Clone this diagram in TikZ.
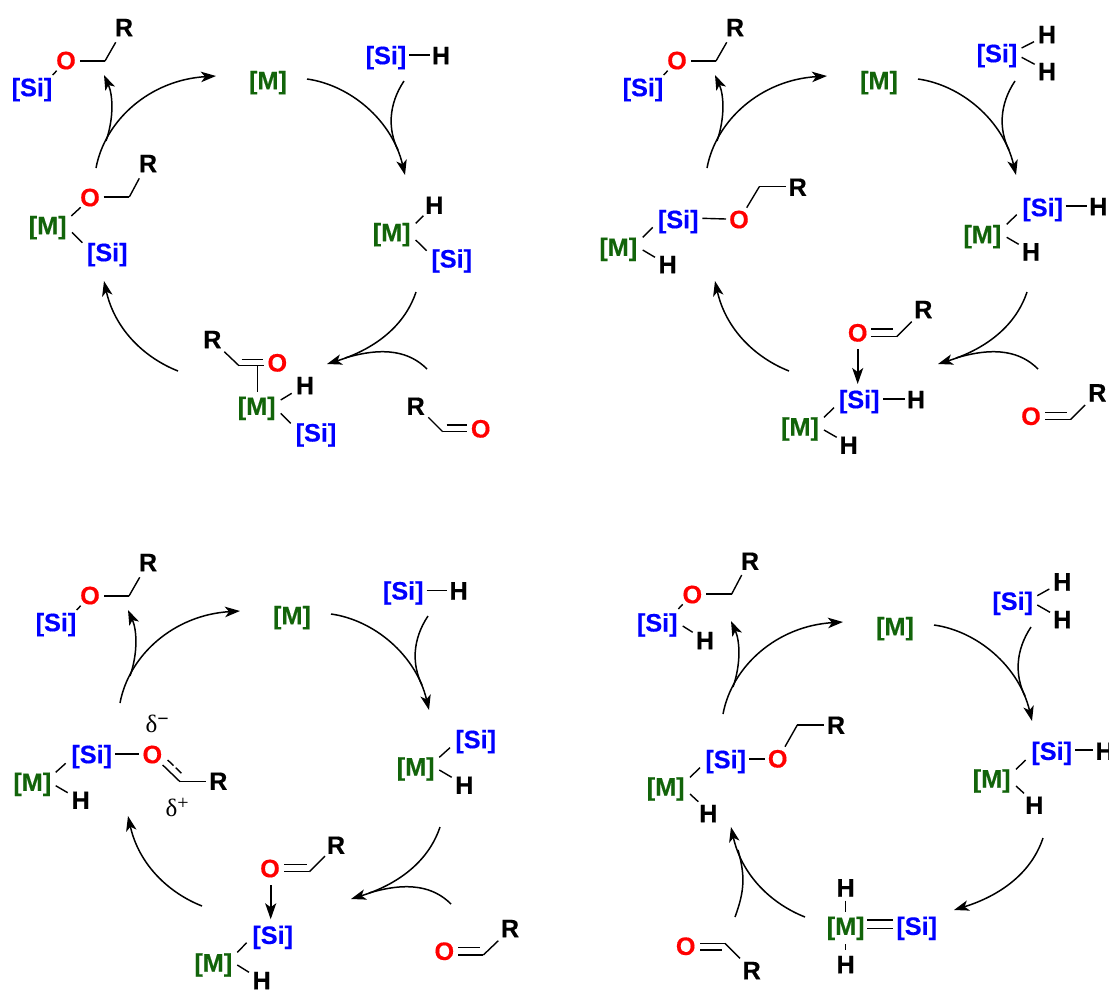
\documentclass[tikz,border=0pt]{standalone}
\usepackage{fontspec}
\setmainfont{Liberation Sans}[BoldFeatures={FakeBold=0.4}]
\newfontfamily\deltafont{Liberation Serif}
\usetikzlibrary{arrows.meta}
\definecolor{sicol}{RGB}{0,0,255}
\definecolor{mcol}{RGB}{18,100,10}
\definecolor{ocol}{RGB}{255,0,0}
\tikzset{
  atom/.style={font=\fontsize{25.2}{25.2}\selectfont\bfseries,inner sep=0pt,text height=18pt,text depth=1.6pt,anchor=center,text=black},
  atomSi/.style={atom,text=sicol},
  atomM/.style={atom,text=mcol},
  atomO/.style={atom,text=ocol},
  bond/.style={line width=1.4pt,black},
  dative/.style={line width=1.7pt,-{Stealth[length=16pt,width=11pt,inset=4pt]}},
  arcline/.style={line width=1.5pt,black},
  arcarrow/.style={arcline,-{Stealth[length=15pt,width=10.5pt,inset=4pt]}},
  deltatext/.style={font=\deltafont\fontsize{25}{25}\selectfont,inner sep=0pt,anchor=base west}
}
\newcommand\bnd[5][]{\draw[bond,#1] ([shift={(#3)}]#2.center) -- ([shift={(#5)}]#4.center);}
\newcommand\cycleparts[1]{%
  \node[atomM] (#1M0) at (268,81) {[M]};
  \coordinate (#1tls) at (96,168); \coordinate (#1tle) at (216,76);
  \coordinate (#1tbs) at (106,141); \coordinate (#1tbe) at (104,75);
  \coordinate (#1trs) at (307,79); \coordinate (#1tre) at (405,175);
  \coordinate (#1rbs) at (404,81); \coordinate (#1rbe) at (398,150);
  \coordinate (#1brs) at (416,292); \coordinate (#1bre) at (327,364);
  \coordinate (#1bls) at (178,371); \coordinate (#1ble) at (104,281);
  \draw[arcarrow] (#1tls) .. controls (105,120) and (150,80) .. (#1tle);
  \draw[arcarrow] (#1tbs) .. controls (114,118) and (113,95) .. (#1tbe);
  \draw[arcarrow] (#1trs) .. controls (350,85) and (392,120) .. (#1tre);
  \draw[arcline] (#1rbs) .. controls (388,105) and (388,130) .. (#1rbe);
  \draw[arcarrow] (#1brs) .. controls (404,328) and (372,350) .. (#1bre);
  \draw[arcarrow] (#1bls) .. controls (145,358) and (115,330) .. (#1ble);
}
\newcommand\aldbranch[1]{%
  \coordinate (#1abs) at (427,369); \coordinate (#1abe) at (345,358);
  \draw[arcline] (#1abs) .. controls (410,352) and (385,346) .. (#1abe);
}
\newcommand\productA[1]{%
  \node[atom] (#1Rp) at (124,28) {R};
  \node[atomO] (#1Op) at (66,61) {O};
  \node[atomSi] (#1Sp) at (32,88) {[Si]};
  \coordinate (#1Cp) at (105,61);
  \bnd{#1Op}{14,0}{#1Cp}{0,0}
  \bnd{#1Cp}{0,0}{#1Rp}{-8.3,14.3}
  \bnd{#1Op}{-9.3,9.7}{#1Sp}{20.7,-13}
}
\begin{document}
\begin{tikzpicture}[x=1pt,y=-1pt]
\useasboundingbox (0,0) rectangle (1109,989);
% ---------- panel 1
\cycleparts{a}\aldbranch{a}\productA{a}
\node[atomSi] (aS1) at (386,56) {[Si]};
\node[atom] (aH1) at (441,56) {H};
\bnd{aS1}{23.4,-1}{aH1}{-11.4,-1}
\node[atomO] (aO1) at (90,198) {O};
\node[atom] (aR1) at (148,164) {R};
\coordinate (aC1) at (129.3,197);
\node[atomM] (aM1) at (47.7,226) {[M]};
\node[atomSi] (aS2) at (107.3,253) {[Si]};
\bnd{aO1}{13.7,-1}{aC1}{0,0}
\bnd{aC1}{0,0}{aR1}{-8.7,14.3}
\bnd{aM1}{23.6,-10}{aO1}{-9.3,9.3}
\bnd{aM1}{24.3,6.3}{aS2}{-25,-10.3}
\node[atomM] (aM2) at (391.7,233) {[M]};
\node[atom] (aH2) at (434.3,205.7) {H};
\node[atomSi] (aS3) at (451.7,259.3) {[Si]};
\bnd{aM2}{24,-9.7}{aH2}{-11,10}
\bnd{aM2}{24,7}{aS3}{-25,-8.6}
\node[atom] (aR2) at (212.3,340) {R};
\node[atomO] (aO2) at (277.3,363.3) {O};
\coordinate (aC2) at (239,365.7);
\node[atomM] (aM3) at (256.7,406.7) {[M]};
\node[atom] (aH3) at (305,386) {H};
\node[atomSi] (aS4) at (316,433.3) {[Si]};
\bnd{aR2}{12,11.7}{aC2}{0,0}
\bnd{aC2}{0,0}{aO2}{-13,2.4}
\bnd{aC2}{2.7,-6.4}{aO2}{-14,-4}
\bnd{aC2}{18.3,0}{aM3}{0.6,-14.4}
\bnd{aM3}{24,-6.7}{aH3}{-13.3,7.3}
\bnd{aM3}{24,6.6}{aS4}{-25.3,-10}
\node[atom] (aR3) at (415.7,406.7) {R};
\node[atomO] (aO3) at (480.7,429.3) {O};
\coordinate (aC3) at (442.7,431.7);
\bnd{aR3}{12.6,10.6}{aC3}{0,0}
\bnd{aC3}{0,0}{aO3}{-14,2.4}
\bnd{aC3}{4,-6.7}{aO3}{-14,-4.3}
% ---------- panel 2
\begin{scope}[shift={(611,0)}]
\cycleparts{b}\aldbranch{b}\productA{b}
\end{scope}
\node[atomSi] (bS1) at (997,54) {[Si]};
\node[atom] (bH1) at (1047,35) {H};
\node[atom] (bH2) at (1047,72) {H};
\bnd{bS1}{24.6,-6}{bH1}{-13,6.7}
\bnd{bS1}{24.6,3.3}{bH2}{-12.3,-7.7}
\node[atomM] (bM2) at (982.3,235) {[M]};
\node[atomSi] (bS2) at (1042.7,208) {[Si]};
\node[atom] (bH3) at (1098.3,207) {H};
\node[atom] (bH4) at (1031,252.3) {H};
\bnd{bM2}{24.4,-10.7}{bS2}{-26,6.7}
\bnd{bM2}{24.4,2.3}{bH4}{-12.3,-8}
\bnd{bS2}{23,-2}{bH3}{-11,-1}
\node[atomO] (bO2) at (857.7,333.3) {O};
\node[atom] (bR2) at (923.3,310) {R};
\coordinate (bC2) at (896.7,336.7);
\bnd{bO2}{13.3,-4.3}{bC2}{-3.4,-7.7}
\bnd{bO2}{13.3,3.4}{bC2}{0,0}
\bnd{bC2}{0,0}{bR2}{-11.6,11.7}
\node[atomSi] (bS3) at (859.3,400) {[Si]};
\node[atom] (bH5) at (916,400) {H};
\node[atomM] (bM3) at (800,427.3) {[M]};
\node[atom] (bH6) at (848.7,445.7) {H};
\bnd[dative]{bO2}{0,15.7}{bS3}{-1.6,-16}
\bnd{bS3}{24,-1}{bH5}{-11,-1}
\bnd{bM3}{24,-10}{bS3}{-25.3,7.7}
\bnd{bM3}{24,2.7}{bH6}{-12,-8.4}
\node[atomO] (bO3) at (1031,416.7) {O};
\node[atom] (bR3) at (1097.3,393.3) {R};
\coordinate (bC3) at (1070.7,419.3);
\bnd{bO3}{14,-4.4}{bC3}{-3.4,-7}
\bnd{bO3}{14,2.6}{bC3}{0,0}
\bnd{bC3}{0,0}{bR3}{-12.3,11.7}
\node[atomM] (bM1) at (618.3,247.7) {[M]};
\node[atomSi] (bS4) at (678.3,220) {[Si]};
\node[atomO] (bO1) at (739,220) {O};
\coordinate (bC1) at (759.3,186.7);
\node[atom] (bR1) at (797.7,187.7) {R};
\node[atom] (bH7) at (667.7,265) {H};
\bnd{bS4}{24,-1.7}{bO1}{-13,-1}
\bnd{bO1}{7.7,-12.3}{bC1}{0,0}
\bnd{bC1}{0,0}{bR1}{-12,-1}
\bnd{bM1}{24.4,-10.4}{bS4}{-25.6,7.3}
\bnd{bM1}{24.4,2.3}{bH7}{-12.7,-7.7}
% ---------- panel 3
\begin{scope}[shift={(24,535)}]
\cycleparts{c}\aldbranch{c}\productA{c}
\end{scope}
\node[atomSi] (cS1) at (403.3,591.3) {[Si]};
\node[atom] (cH1) at (458.7,591.3) {H};
\bnd{cS1}{23.4,-1}{cH1}{-11.4,-1}
\node[atomSi] (cS2) at (91.7,755) {[Si]};
\node[atomO] (cO1) at (152.3,755) {O};
\coordinate (cC1) at (180,781.7);
\node[atom] (cR1) at (218.3,781.7) {R};
\node[atomM] (cM1) at (32.3,782.7) {[M]};
\node[atom] (cH2) at (80.7,800.7) {H};
\node[deltatext] (cD1) at (145.5,732.7) {δ\raisebox{7pt}{\fontsize{20}{20}\selectfont\textbf{−}}};
\node[deltatext] (cD2) at (165.5,816.7) {δ\raisebox{7pt}{\fontsize{20}{20}\selectfont +}};
\bnd{cS2}{23.3,-1}{cO1}{-13.3,-1}
\bnd{cO1}{10.4,10}{cC1}{0,0}
\bnd[dash pattern=on 8pt off 3pt]{cO1}{15.4,5}{cC1}{3.3,-6.7}
\bnd{cC1}{0,0}{cR1}{-12.3,0}
\bnd{cM1}{23.4,-10.4}{cS2}{-26,8.3}
\bnd{cM1}{23.4,3}{cH2}{-13,-8}
\node[atomM] (cM2) at (415.7,767.3) {[M]};
\node[atomSi] (cS3) at (475.7,740) {[Si]};
\node[atom] (cH3) at (464.3,785.7) {H};
\bnd{cM2}{23.6,-10}{cS3}{-25.7,7.7}
\bnd{cM2}{23.6,2.7}{cH3}{-12.6,-8.4}
\node[atomO] (cO2) at (270,869) {O};
\node[atom] (cR2) at (336,845.7) {R};
\coordinate (cC2) at (309.3,871.7);
\bnd{cO2}{14,-4.7}{cC2}{-2.6,-7.4}
\bnd{cO2}{14,2.7}{cC2}{0,0}
\bnd{cC2}{0,0}{cR2}{-11,10.3}
\node[atomSi] (cS4) at (272.7,935.7) {[Si]};
\node[atomM] (cM3) at (213.3,963.3) {[M]};
\node[atom] (cH4) at (261.7,981) {H};
\bnd[dative]{cO2}{0.7,16}{cS4}{-2,-16.4}
\bnd{cM3}{24,-11}{cS4}{-26,7}
\bnd{cM3}{24,1.7}{cH4}{-12.7,-8.7}
\node[atomO] (cO3) at (444.3,951.7) {O};
\node[atom] (cR3) at (510,929) {R};
\coordinate (cC3) at (483.3,955);
\bnd{cO3}{14,-4}{cC3}{-3.3,-7.3}
\bnd{cO3}{14,3.3}{cC3}{0,0}
\bnd{cC3}{0,0}{cR3}{-11.7,11.7}
% ---------- panel 4
\begin{scope}[shift={(627,546)}]
\cycleparts{d}
\end{scope}
\node[atomSi] (dS1) at (1012.7,601.7) {[Si]};
\node[atom] (dH1) at (1062.3,582.3) {H};
\node[atom] (dH2) at (1062.3,620) {H};
\bnd{dS1}{24.6,-6}{dH1}{-13,6.7}
\bnd{dS1}{24.6,3.3}{dH2}{-12.3,-7.7}
\node[atomM] (dM2) at (991.7,779.3) {[M]};
\node[atomSi] (dS2) at (1051.7,751.7) {[Si]};
\node[atom] (dH3) at (1104.7,751.7) {H};
\node[atom] (dH4) at (1034.3,805.7) {H};
\bnd{dM2}{24.3,-10}{dS2}{-26,8.3}
\bnd{dM2}{24.3,6.7}{dH4}{-10.3,-12.4}
\bnd{dS2}{23.3,-1.7}{dH3}{-12,-1.7}
\node[atomM] (dM3) at (845.7,926.7) {[M]};
\node[atomSi] (dS3) at (916.7,926.7) {[Si]};
\node[atom] (dH5) at (845.7,888.3) {H};
\node[atom] (dH6) at (845.7,965) {H};
\bnd{dH5}{0,12.4}{dM3}{0,-15}
\bnd{dM3}{0,17.6}{dH6}{0,-15}
\bnd{dM3}{21.6,-6.7}{dS3}{-23.4,-6.7}
\bnd{dM3}{21.6,1.6}{dS3}{-23.4,1.6}
\node[atomO] (dO3) at (685.7,946.7) {O};
\node[atom] (dR3) at (751.7,971) {R};
\coordinate (dC3) at (725,943.3);
\bnd{dO3}{14.3,-3.4}{dC3}{0,0}
\bnd{dO3}{14.3,3.3}{dC3}{-3.3,6.7}
\bnd{dC3}{0,0}{dR3}{-11.7,-12.7}
\coordinate (dBs) at (735,917); \coordinate (dBe) at (738,850);
\draw[arcline] (dBs) .. controls (745,890) and (745,875) .. (dBe);
\node[atomSi] (dS4) at (725.7,760) {[Si]};
\node[atomO] (dO1) at (777.7,759.3) {O};
\coordinate (dC1) at (797.3,725);
\node[atom] (dR1) at (836,725.7) {R};
\node[atomM] (dM1) at (665.7,787.3) {[M]};
\node[atom] (dH7) at (708.3,814) {H};
\bnd{dS4}{23.6,-1}{dO1}{-12.7,-0.3}
\bnd{dO1}{7.3,-12.6}{dC1}{0,0}
\bnd{dC1}{0,0}{dR1}{-12,-0.7}
\bnd{dM1}{24.3,-10}{dS4}{-25.7,7.7}
\bnd{dM1}{24.3,6.7}{dH7}{-10,-12.3}
\node[atomO] (dO0) at (692.3,595) {O};
\node[atom] (dR0) at (750,561.7) {R};
\coordinate (dC0) at (731.7,594);
\node[atomSi] (dS0) at (657.3,623.3) {[Si]};
\node[atom] (dH0) at (705,641) {H};
\bnd{dO0}{13.7,-1}{dC0}{0,0}
\bnd{dC0}{0,0}{dR0}{-8.3,13.3}
\bnd{dO0}{-9.6,9.3}{dS0}{21,-14.3}
\bnd{dS0}{25.4,2.7}{dH0}{-12.3,-8.7}
\end{tikzpicture}
\end{document}
